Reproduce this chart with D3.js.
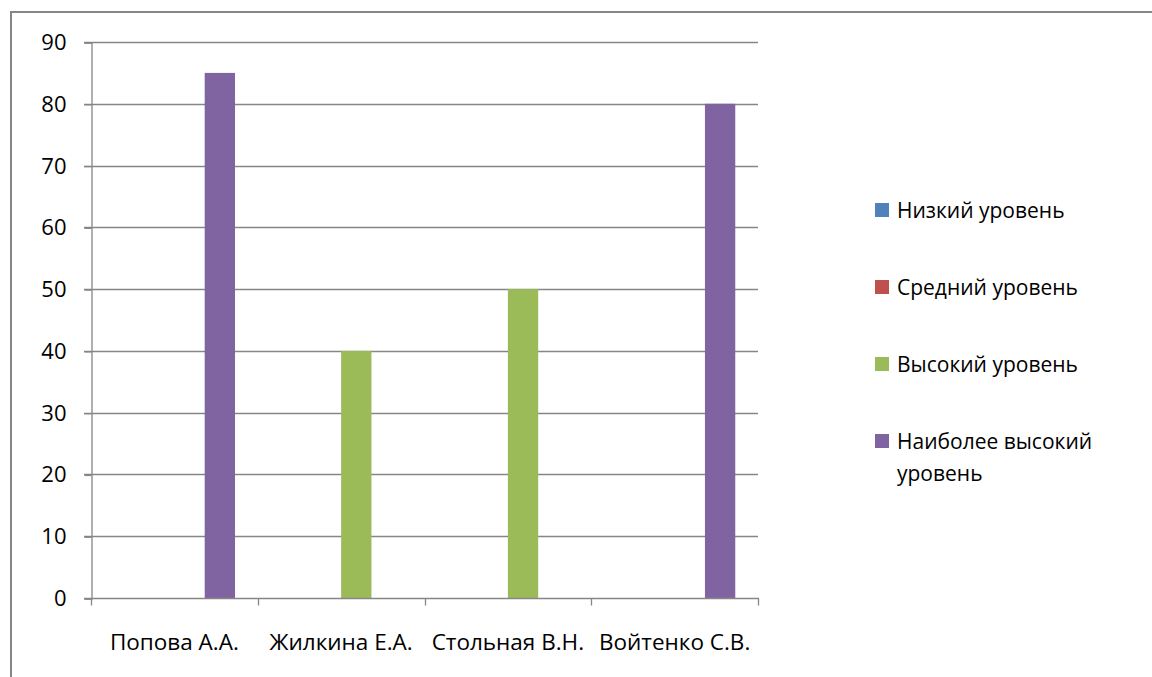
<!DOCTYPE html>
<html>
<head>
<meta charset="utf-8">
<script src="https://cdn.jsdelivr.net/npm/d3@7"></script>
<style>
  body { margin: 0; background: #fff; }
  svg { display: block; }
  text { font-family: "Open Sans", "Noto Sans", sans-serif; fill: #000; }
</style>
</head>
<body>
<svg id="chart" width="1152" height="677"></svg>
<script>
// Students (categories) and the four achievement levels (series)
const categories = ["Попова А.А.", "Жилкина Е.А.", "Стольная В.Н.", "Войтенко С.В."];
const seriesNames = ["Низкий уровень", "Средний уровень", "Высокий уровень", "Наиболее высокий уровень"];
const seriesColors = ["#4F81BD", "#C0504D", "#9BBB59", "#8064A2"];
const lowLevel = [0, 0, 0, 0];
const midLevel = [0, 0, 0, 0];
const highLevel = [0, 40, 50, 0];
const topLevel = [85, 0, 0, 80];
const yTicks = [0, 10, 20, 30, 40, 50, 60, 70, 80, 90];

const seriesValues = [lowLevel, midLevel, highLevel, topLevel];

const svg = d3.select("#chart");

// Outer chart frame
svg.append("rect")
  .attr("x", 11).attr("y", 12)
  .attr("width", 1160).attr("height", 700)
  .attr("fill", "none").attr("stroke", "#868686").attr("stroke-width", 2);

const plot = { left: 91, right: 758, top: 42, bottom: 598 };

const y = d3.scaleLinear().domain([0, 90]).range([plot.bottom, plot.top]);
const x0 = d3.scaleBand().domain(categories).range([plot.left, plot.right]).paddingInner(0).paddingOuter(0);
// Each cluster: four bars with a gap of 1.5 bar widths split on both sides
const barW = x0.bandwidth() / (seriesNames.length + 1.5);
const x1 = d3.scaleBand().domain(d3.range(seriesNames.length))
  .range([0.75 * barW, 0.75 * barW + barW * seriesNames.length]).padding(0);

// Horizontal gridlines with left tick marks
const grid = svg.append("g");
grid.selectAll("line").data(yTicks.filter(d => d > 0)).join("line")
  .attr("x1", plot.left - 7).attr("x2", plot.right)
  .attr("y1", d => Math.round(y(d)) + 0.5).attr("y2", d => Math.round(y(d)) + 0.5)
  .attr("stroke", "#868686").attr("stroke-width", 1.3);

// Bars
const groups = svg.append("g").selectAll("g").data(categories).join("g")
  .attr("transform", c => `translate(${x0(c)},0)`);
groups.selectAll("rect")
  .data((c, ci) => seriesValues.map((vals, si) => ({ si, v: vals[ci] })).filter(d => d.v > 0))
  .join("rect")
  .attr("x", d => x1(d.si))
  .attr("width", x1.bandwidth())
  .attr("y", d => y(d.v))
  .attr("height", d => y(0) - y(d.v))
  .attr("fill", d => seriesColors[d.si]);

// Y axis
const yAxis = d3.axisLeft(y).tickValues(yTicks).tickSize(7).tickPadding(18);
const yg = svg.append("g").attr("transform", `translate(${plot.left + 0.5},0.5)`).call(yAxis);
yg.select(".domain").attr("stroke", "#868686").attr("stroke-width", 1.3);
yg.selectAll(".tick line").attr("stroke", "#868686").attr("stroke-width", 1.3);
yg.selectAll(".tick text").attr("font-size", 22).attr("fill", "#000")
  .attr("font-family", "'Open Sans', sans-serif");

// X axis: ticks at category boundaries
const xg = svg.append("g").attr("transform", `translate(0,${plot.bottom + 0.5})`);
xg.append("line").attr("x1", plot.left - 7).attr("x2", plot.right + 1)
  .attr("stroke", "#868686").attr("stroke-width", 1.3);
const bounds = categories.map(c => x0(c)).concat([plot.right]);
xg.selectAll("line.tk").data(bounds).join("line").attr("class", "tk")
  .attr("x1", d => Math.round(d) + 0.5).attr("x2", d => Math.round(d) + 0.5)
  .attr("y1", 0).attr("y2", 7)
  .attr("stroke", "#868686").attr("stroke-width", 1.3);
xg.selectAll("text").data(categories).join("text")
  .attr("x", c => x0(c) + x0.bandwidth() / 2)
  .attr("y", 51)
  .attr("text-anchor", "middle")
  .attr("font-size", 22.5)
  .text(c => c);

// Legend
const legendRows = [
  { lines: ["Низкий уровень"], y: 210 },
  { lines: ["Средний уровень"], y: 287 },
  { lines: ["Высокий уровень"], y: 364 },
  { lines: ["Наиболее высокий", "уровень"], y: 441 }
];
const lg = svg.append("g");
legendRows.forEach((row, i) => {
  lg.append("rect").attr("x", 875).attr("y", row.y - 7)
    .attr("width", 14).attr("height", 14).attr("fill", seriesColors[i]);
  const t = lg.append("text").attr("x", 897).attr("y", row.y + 8).attr("font-size", 21);
  row.lines.forEach((ln, k) => {
    t.append("tspan").attr("x", 897).attr("dy", k === 0 ? 0 : 32).text(ln);
  });
});
</script>
</body>
</html>
